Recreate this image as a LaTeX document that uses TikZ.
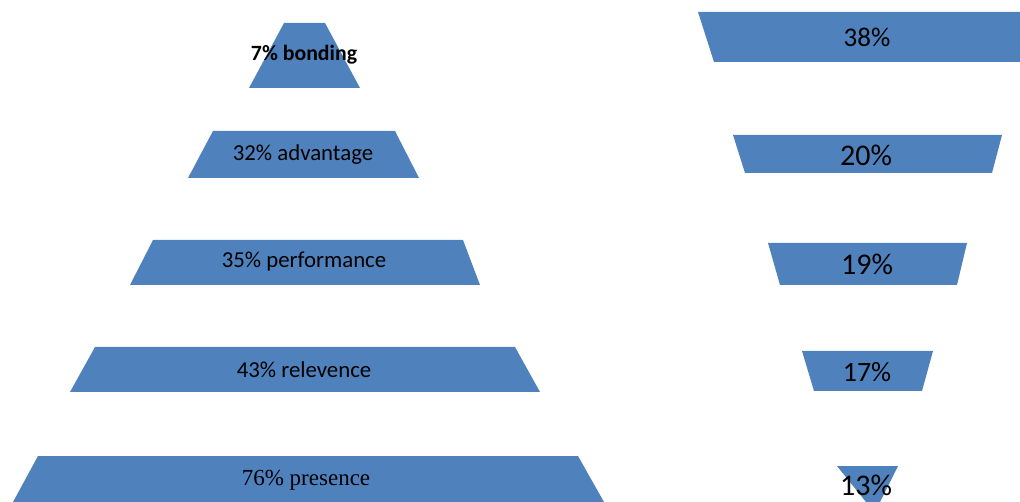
\documentclass[tikz,border=0pt]{standalone}
\usepackage{fontspec}
\setmainfont{Carlito}
\newfontfamily\serifface{Liberation Serif}
\definecolor{barblue}{HTML}{4F81BD}
\tikzset{
  bar/.style={fill=barblue, draw=none},
  lbl/.style={inner sep=0pt, text=black, font=\fontsize{22.8}{26}\selectfont},
  pct/.style={inner sep=0pt, text=black, font=\fontsize{30}{34}\selectfont}
}
\begin{document}
\begin{tikzpicture}[x=1pt, y=-1pt]
\useasboundingbox (0,0) rectangle (1020,502);
% left pyramid
\fill[bar] (284,23) -- (325,23) -- (360,88) -- (249,88) -- cycle;
\fill[bar] (213,131) -- (395,131) -- (419,178) -- (188,178) -- cycle;
\fill[bar] (153,240) -- (463,240) -- (480,285) -- (130,285) -- cycle;
\fill[bar] (95,347) -- (515,347) -- (540,392) -- (70,392) -- cycle;
\fill[bar] (38,456) -- (578,456) -- (604,502) -- (13,502) -- cycle;
\node[lbl, font=\fontsize{21.8}{24}\selectfont\bfseries] (bonding) at (304,55) {7\% bonding};
\node[lbl] (advantage) at (303,155) {32\% advantage};
\node[lbl] (performance) at (304,262) {35\% performance};
\node[lbl] (relevence) at (304,370) {43\% relevence};
\node[lbl, font=\fontsize{23}{26}\selectfont\serifface] (presence) at (306,480) {76\% presence};
% right funnel
\fill[bar] (698,12) -- (1020,12) -- (1020,62) -- (714,62) -- cycle;
\fill[bar] (733,135) -- (1002,135) -- (992,173) -- (745,173) -- cycle;
\fill[bar] (768,243) -- (967,243) -- (957,285) -- (780,285) -- cycle;
\fill[bar] (802,351) -- (933,351) -- (922,391) -- (814,391) -- cycle;
\fill[bar] (837,466) -- (898,466) -- (880,502) -- (866,502) -- cycle;
\node[pct, font=\fontsize{27}{30}\selectfont] (p38) at (867,37) {38\%};
\node[pct] (p20) at (866,155) {20\%};
\node[pct] (p19) at (867,264) {19\%};
\node[pct, font=\fontsize{28}{30}\selectfont] (p17) at (867,372) {17\%};
\node[pct] (p13) at (866,485) {13\%};
\end{tikzpicture}
\end{document}
